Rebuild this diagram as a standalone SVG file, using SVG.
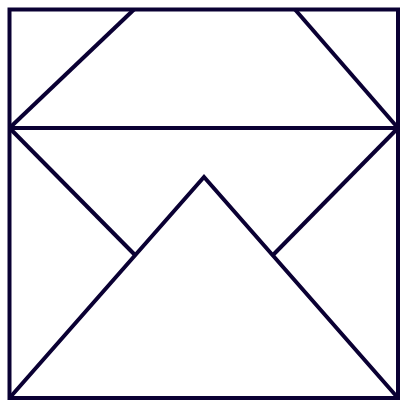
<svg xmlns="http://www.w3.org/2000/svg" width="408" height="408" viewBox="0 0 408 408">
<style>.l{fill:none;stroke:#0a0033;stroke-width:4;stroke-linejoin:miter;stroke-linecap:butt}</style>
<rect width="408" height="408" fill="#fff"/>
<g id="shapes" class="l">
<rect x="9.5" y="9.5" width="388.5" height="388.5"/>
<line x1="9.5" y1="128" x2="398" y2="128"/>
<line x1="9.5" y1="128" x2="134" y2="9.5"/>
<line x1="295" y1="9.5" x2="398" y2="128"/>
<polyline points="9.5,398 204,177 398,398"/>
<line x1="9.5" y1="128" x2="135" y2="255"/>
<line x1="398" y1="128" x2="273" y2="255"/>
</g>
</svg>
